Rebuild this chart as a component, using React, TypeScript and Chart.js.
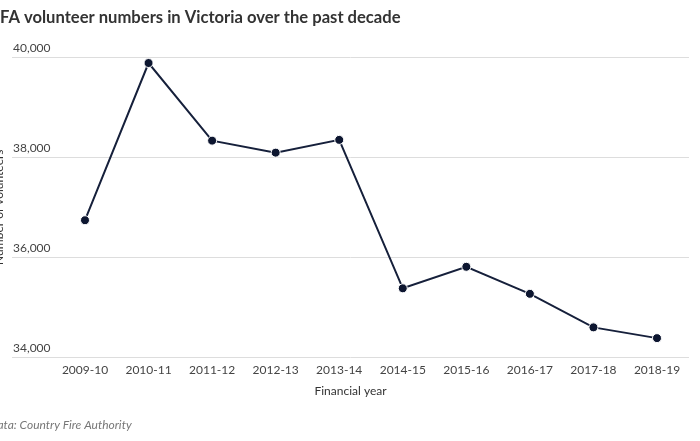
import React, { useEffect, useRef } from "react";
import { Chart, registerables } from "chart.js";

Chart.register(...registerables);

const categories = ["2009-10", "2010-11", "2011-12", "2012-13", "2013-14", "2014-15", "2015-16", "2016-17", "2017-18", "2018-19"];
const volunteers = [36740, 39880, 38330, 38090, 38345, 35380, 35810, 35270, 34600, 34385];
const yTicks = [34000, 36000, 38000, 40000];

const titleText = "CFA volunteer numbers in Victoria over the past decade";
const sourceText = "Data: Country Fire Authority";
const FONT = "Lato, 'Noto Sans', sans-serif";
const SHIFT = 20;

export default function App() {
  const ref = useRef<HTMLCanvasElement | null>(null);

  useEffect(() => {
    document.body.style.margin = "0";
    if (!ref.current) return;
    const points = categories.map((_, i) => ({ x: i, y: volunteers[i] }));
    const chart = new Chart(ref.current, {
      type: "line",
      data: {
        datasets: [
          {
            data: points,
            borderColor: "#16203b",
            borderWidth: 2,
            backgroundColor: "#16203b",
            pointBackgroundColor: "#0d1630",
            pointBorderColor: "#ffffff",
            pointBorderWidth: 1,
            pointRadius: 4.5,
            tension: 0,
            fill: false,
          },
        ],
      },
      options: {
        animation: false,
        responsive: true,
        maintainAspectRatio: false,
        layout: { padding: { left: 9, right: 11, top: 0, bottom: 0 } },
        plugins: {
          legend: { display: false },
          tooltip: { enabled: false },
          title: {
            display: true,
            text: titleText,
            align: "start",
            color: "#333333",
            font: { family: FONT, size: 16.6, weight: "bold" },
            padding: { top: 7.6, bottom: 29.5 },
          },
          subtitle: {
            display: true,
            position: "bottom",
            text: sourceText,
            align: "start",
            color: "#777777",
            font: { family: FONT, size: 12, style: "italic" },
            padding: { top: 15.6, bottom: 8.8 },
          },
        },
        scales: {
          x: {
            type: "linear",
            min: -1.1486,
            max: 9.5035,
            afterBuildTicks: (scale: any) => {
              scale.ticks = categories.map((_, i) => ({ value: i }));
            },
            grid: { display: false, drawTicks: false },
            border: { display: false },
            ticks: {
              callback: (v: any) => categories[v as number] ?? "",
              color: "#444444",
              font: { family: FONT, size: 12 },
              padding: 6,
              maxRotation: 0,
              autoSkip: false,
            },
            title: {
              display: true,
              text: "Financial year",
              color: "#333333",
              font: { family: FONT, size: 12 },
              padding: { top: 0, bottom: 4 },
            },
          },
          y: {
            min: 34000,
            max: 40000,
            afterBuildTicks: (scale: any) => {
              scale.ticks = yTicks.map((v) => ({ value: v }));
            },
            afterFit: (scale: any) => {
              scale.width = 23;
            },
            grid: { color: "#dddddd", drawTicks: false, lineWidth: 1 },
            border: { display: false },
            ticks: {
              mirror: true,
              padding: 1,
              labelOffset: -9,
              color: "#444444",
              font: { family: FONT, size: 12 },
              callback: (v: any) => Number(v).toLocaleString("en-US"),
            },
            title: {
              display: true,
              text: "Number of volunteers",
              color: "#333333",
              font: { family: FONT, size: 12 },
              padding: { top: 3, bottom: 4 },
            },
          },
        },
      },
    });
    return () => chart.destroy();
  }, []);

  return (
    <div style={{ position: "fixed", left: 0, top: 0, width: 700, height: 441, overflow: "hidden", background: "#ffffff" }}>
      <div style={{ position: "absolute", left: -SHIFT, top: 0, width: 700 + SHIFT, height: 441 }}>
        <canvas ref={ref} />
      </div>
    </div>
  );
}
